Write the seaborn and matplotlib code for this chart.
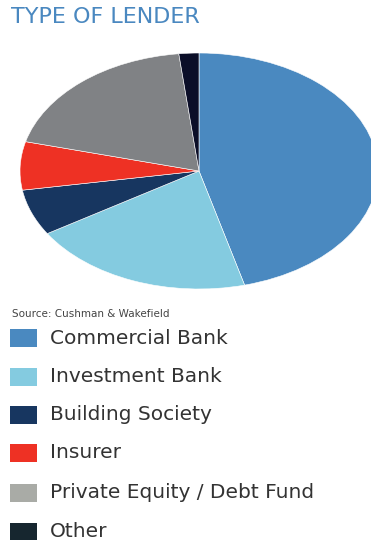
import matplotlib
matplotlib.use("Agg")
import matplotlib.pyplot as plt
from matplotlib.patches import Rectangle
import seaborn as sns

# Share of lending by type of lender (%)
lenders = ["Commercial Bank", "Investment Bank", "Building Society",
           "Insurer", "Private Equity / Debt Fund", "Other"]
shares = [45.9, 20.2, 6.3, 6.6, 19.2, 1.8]

title = "TYPE OF LENDER"
source = "Source: Cushman & Wakefield"

sns.set_theme(style="white")
plt.rcParams["font.family"] = ["DejaVu Sans"]

pie_colors = ["#4A89C0", "#84CBE0", "#173660", "#EE3124", "#808285", "#0B0E28"]
key_colors = ["#4A89C0", "#84CBE0", "#173660", "#EE3124", "#A9ABA6", "#16262F"]

W, H = 371, 540
fig = plt.figure(figsize=(W / 100, H / 100), dpi=100)
fig.patch.set_facecolor("white")

# Pie axes: stretched horizontally so the pie renders as a wide ellipse
cx, cy, rx, ry = 199, 171, 179, 118
left_px, right_px = 20, W
top_px, bot_px = cy - ry, cy + ry
ax = fig.add_axes([left_px / W, 1 - bot_px / H,
                   (right_px - left_px) / W, (bot_px - top_px) / H])
ax.pie(shares, colors=pie_colors, startangle=90, counterclock=False,
       radius=1.0, wedgeprops=dict(edgecolor="white", linewidth=0.4))
ax.set_aspect("auto")
ax.set_xlim(-1.0, (right_px - cx) / rx)
ax.set_ylim(-1.0, 1.0)
ax.axis("off")

# Overlay in pixel coordinates for the heading, source note and key
ov = fig.add_axes([0, 0, 1, 1])
ov.set_xlim(0, W)
ov.set_ylim(H, 0)
ov.axis("off")
ov.patch.set_alpha(0)

ov.text(11, 17, title, color="#4A88C0", fontsize=16, va="center",
        ha="left")
ov.text(12, 314, source, color="#444444", fontsize=7.5, va="center",
        ha="left")

row_y = [338, 376.5, 415, 453, 492.5, 531.5]
for name, col, y in zip(lenders, key_colors, row_y):
    ov.add_patch(Rectangle((10, y - 9), 27, 18, facecolor=col,
                           edgecolor="none"))
    ov.text(50, y, name, color="#333333", fontsize=14.5, va="center",
            ha="left")

fig.savefig("out.png", dpi=100, facecolor="white")
